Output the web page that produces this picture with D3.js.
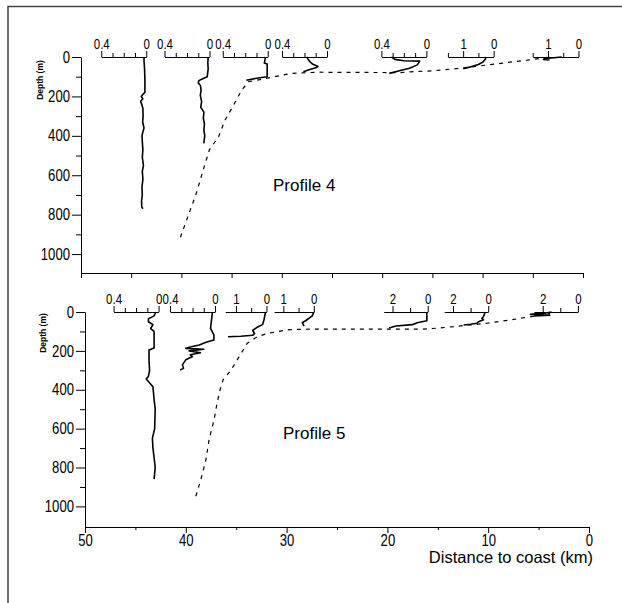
<!DOCTYPE html>
<html>
<head>
<meta charset="utf-8">
<script src="https://cdn.jsdelivr.net/npm/d3@7"></script>
<style>
body { margin: 0; background: #fff; }
svg { display: block; }
.num, .txt { font-family: "Liberation Sans", Arial, sans-serif; }
</style>
</head>
<body>
<svg id="chart" width="622" height="603"></svg>
<script>
// station positions (distance to coast, km)
const kmP4 = [43.5, 37.2, 31.4, 25.5, 15.6, 8.9, 0.45];
const kmP5 = [42.7, 37.1, 32.0, 27.3, 16.0, 10.0, 1.1];

// small axes over each station: labelled tick and end of the line
const labP4 = [0.4, 0.4, 0.4, 0.4, 0.4, 1, 1];
const endP4 = [0.4, 0.4, 0.4, 0.4, 0.4, 1.5, 1.5];
const labP5 = [0.4, 0.4, 1, 1, 2, 2, 2];
const endP5 = [0.4, 0.4, 1.35, 1.3, 2.5, 2.5, 2.5];

// main axes ticks
const depthTicks = [0, 100, 200, 300, 400, 500, 600, 700, 800, 900, 1000];
const kmTicks = [50, 45, 40, 35, 30, 25, 20, 15, 10, 5, 0];

// profile 4 : [value, depth m]
const p4s1 = [[0.02,0],[0.02,20],[0.015,60],[0.012,120],[0.012,180],[0.03,190],[0.045,200],[0.03,212],[0.05,225],[0.04,240],[0.03,260],[0.028,300],[0.032,330],[0.02,360],[0.03,380],[0.038,400],[0.035,430],[0.03,470],[0.035,510],[0.025,550],[0.035,580],[0.03,620],[0.038,660],[0.035,700],[0.042,730],[0.04,760],[0.03,770]];
const p4s2 = [[0.012,0],[0.015,30],[0.012,60],[0.02,100],[0.06,110],[0.095,120],[0.1,132],[0.08,145],[0.075,170],[0.082,195],[0.07,225],[0.078,255],[0.05,280],[0.055,310],[0.045,340],[0.05,370],[0.042,400],[0.048,425],[0.05,438]];
const p4s3 = [[0.02,0],[0.025,15],[0.03,30],[0.005,36],[0.005,100],[0.1,108],[0.19,118]];
const p4s4 = [[0.18,0],[0.17,10],[0.15,25],[0.13,35],[0.08,48],[0.1,55],[0.16,65],[0.21,75]];
const p4s5 = [[0.31,0],[0.28,12],[0.2,19],[0.06,21],[0.08,40],[0.15,57],[0.24,70],[0.33,83]];
const p4s6 = [[0.25,0],[0.27,10],[0.35,25],[0.5,38],[0.75,50],[1.0,60]];
const p4s7 = [[0.55,0],[0.8,4],[1.1,8],[1.15,12],[0.95,15]];

// profile 5 : [value, depth m]
const p5s1 = [[0.024,0],[0.04,20],[0.09,35],[0.09,50],[0.05,65],[0.07,85],[0.04,100],[0.04,185],[0.085,195],[0.085,250],[0.08,300],[0.09,330],[0.11,345],[0.05,385],[0.04,450],[0.03,500],[0.035,600],[0.055,650],[0.05,700],[0.03,800],[0.04,860]];
const p5s2 = [[0.023,0],[0.04,84],[0.01,118],[0.01,144],[0.08,156],[0.14,170],[0.22,180],[0.26,187],[0.1,192],[0.23,200],[0.13,210],[0.22,220],[0.2,229],[0.26,246],[0.29,272],[0.28,290],[0.31,298]];
const p5s3 = [[0.03,0],[0.08,40],[0.13,65],[0.32,80],[0.45,95],[0.39,110],[0.45,120],[0.84,125],[1.26,127]];
const p5s4 = [[0.0,0],[0.05,20],[0.27,45],[0.38,55],[0.32,72]];
const p5s5 = [[0.05,0],[0.05,45],[0.6,55],[0.87,65],[1.8,72],[2.2,82]];
const p5s6 = [[0.17,0],[0.27,24],[0.36,33],[0.27,40],[0.55,50],[0.64,58],[1.02,63],[1.4,67]];
const p5s7 = [[1.5,0],[1.9,6],[2.7,12],[1.6,16],[2.5,20]];

// bottom depth along the section : [km, depth m]
const bottomP4 = [[40.1,915],[39.5,830],[38.5,690],[37.75,560],[37.2,470],[36.3,405],[35.65,320],[34.8,244],[34.0,168],[33.3,125],[32.0,113],[30.7,100],[29.0,83],[26.4,77],[24.4,78],[18.2,79],[17.2,75],[14.9,70],[12.25,57],[9.6,41],[6.9,24],[4.95,12],[3.6,2]];
const bottomP5 = [[39.0,948],[38.5,860],[38.0,760],[37.7,660],[37.2,555],[36.9,470],[36.6,400],[36.3,349],[35.5,298],[34.7,229],[33.9,161],[32.9,127],[31.9,110],[29.9,92],[28.6,89],[26.6,88],[20,88],[16.5,88],[14.75,82],[12.44,70],[10.13,58],[7.8,41],[6.17,27],[4.52,15],[3.86,7]];

// px per unit and tick step of the small axes, by labelled value
const miniPx = { "0.4": 112.5, "1": 30.5, "2": 17.6 };
const miniStep = { "0.4": 0.1, "1": 0.5, "2": 1 };
const NARROW = 0.82; // the numbers in the original are in a narrow face

const svg = d3.select("#chart");

// frame
svg.append("path").attr("d", "M8,603V6.5H622")
    .attr("fill", "none").attr("stroke", "#444").attr("stroke-width", 1.5);

// squeeze tick numbers horizontally
function narrow(sel, size) {
    sel.attr("class", "num").style("font-size", size + "px").attr("fill", "#000")
        .attr("x", function () { return (+this.getAttribute("x") || 0) / NARROW; })
        .attr("transform", `scale(${NARROW},1)`);
}

function panel(o) {
    const g = svg.append("g");
    const x = d3.scaleLinear().domain([50, 0]).range(o.xr);
    const y = d3.scaleLinear().domain([0, o.dmax]).range(o.yr);

    // depth axis
    const ya = g.append("g").attr("transform", `translate(${o.xr[0]},0)`)
        .call(d3.axisLeft(y).tickValues(depthTicks).tickSizeOuter(0)
            .tickFormat(d => d % 200 === 0 ? d : ""));
    ya.selectAll(".tick line").attr("x2", d => d % 200 === 0 ? -9 : -5);
    ya.selectAll(".tick text").attr("x", -11).call(narrow, 16);

    // distance axis
    const xa = g.append("g").attr("transform", `translate(0,${o.yr[1]})`)
        .call(d3.axisBottom(x).tickValues(kmTicks).tickSizeOuter(0)
            .tickFormat(d => o.labels && d % 10 === 0 ? d : ""));
    xa.selectAll(".tick line").attr("y2", d => o.labels ? (d % 10 === 0 ? 6 : 3) : 5);
    xa.selectAll(".tick text").attr("y", 8).call(narrow, 16);
    g.selectAll(".domain").attr("stroke", "#000");
    g.selectAll(".tick line").attr("stroke", "#000");

    // small axes + profiles
    o.km.forEach((km, i) => {
        const lab = o.lab[i], end = o.end[i];
        const x0 = x(km);
        const s = d3.scaleLinear().domain([0, end]).range([x0, x0 - end * miniPx[lab]]);
        const step = miniStep[lab];
        const tv = d3.range(0, Math.floor(end / step + 1e-6) + 1).map(k => +(k * step).toFixed(2));
        const ma = g.append("g").attr("transform", `translate(0,${y(0)})`)
            .call(d3.axisTop(s).tickValues(tv).tickSizeOuter(0)
                .tickFormat(d => (d === 0 || d === lab) ? d : ""));
        ma.selectAll(".tick line").attr("y2", d => (d === 0 || d === lab) ? -6 : -4).attr("stroke", "#000");
        ma.select(".domain").attr("stroke", "#000");
        ma.selectAll(".tick text").attr("y", -8).call(narrow, 14);

        g.append("path").datum(o.prof[i])
            .attr("fill", "none").attr("stroke", "#000").attr("stroke-width", 1.6)
            .attr("stroke-linejoin", "round")
            .attr("d", d3.line().x(d => s(d[0])).y(d => y(d[1])));
    });

    // sea floor
    g.append("path").datum(o.bottom)
        .attr("fill", "none").attr("stroke", "#000").attr("stroke-width", 1.2)
        .attr("stroke-dasharray", "4,5")
        .attr("d", d3.line().x(d => x(d[0])).y(d => y(d[1])));

    g.append("text").attr("class", "txt").attr("transform", `translate(${o.ylab[0]},${o.ylab[1]}) rotate(-90)`)
        .attr("text-anchor", "middle").style("font-size", "8.5px").style("font-weight", "bold")
        .text("Depth (m)");
    g.append("text").attr("class", "txt").attr("x", o.title[0]).attr("y", o.title[1])
        .style("font-size", "17px").text(o.name);
    return { x, y };
}

panel({
    xr: [81, 583], yr: [57, 273], dmax: 1096, labels: false,
    km: kmP4, lab: labP4, end: endP4,
    prof: [p4s1, p4s2, p4s3, p4s4, p4s5, p4s6, p4s7],
    bottom: bottomP4, ylab: [43, 80], title: [273, 191], name: "Profile 4"
});
panel({
    xr: [85, 589], yr: [312, 527], dmax: 1106, labels: true,
    km: kmP5, lab: labP5, end: endP5,
    prof: [p5s1, p5s2, p5s3, p5s4, p5s5, p5s6, p5s7],
    bottom: bottomP5, ylab: [46, 333], title: [283, 439], name: "Profile 5"
});

svg.append("text").attr("class", "txt").attr("x", 593).attr("y", 563)
    .attr("text-anchor", "end").style("font-size", "16.5px")
    .text("Distance to coast (km)");
</script>
</body>
</html>
